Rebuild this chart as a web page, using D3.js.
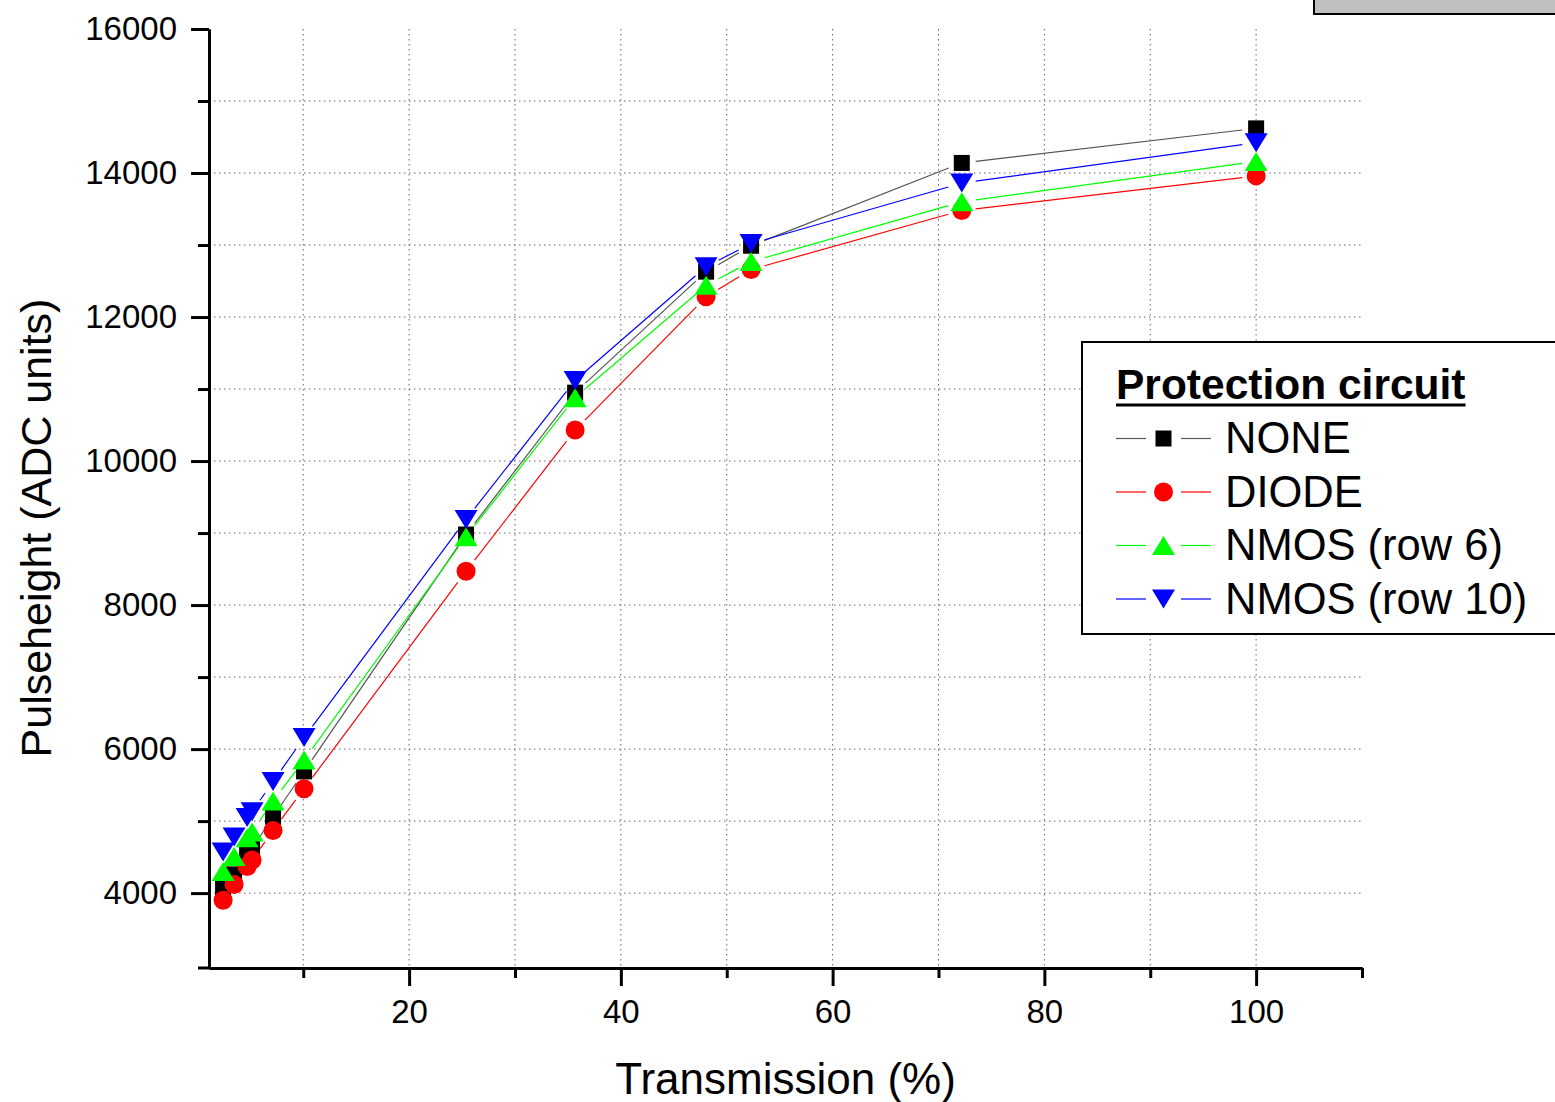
<!DOCTYPE html>
<html>
<head>
<meta charset="utf-8">
<script src="https://cdn.jsdelivr.net/npm/d3@7"></script>
<style>
  body { margin: 0; background: #fff; }
  svg { display: block; font-family: "Liberation Sans", Arial, sans-serif; }
  .axis path, .axis line { stroke: #000; stroke-width: 3; }
  .axis text { font-size: 33px; fill: #000; font-family: "Liberation Sans", Arial, sans-serif; }
  .grid line { stroke: #666; stroke-width: 1; stroke-dasharray: 1.5,3.5; }
</style>
</head>
<body>
<svg width="1555" height="1102"></svg>
<script>
// data
var transmission = [2.43, 3.47, 4.7, 5.17, 7.15, 10.08, 25.38, 35.68, 48.05, 52.3, 72.2, 100];
var noneVals   = [4060, 4260, 4560, 4620, 5060, 5690, 8980, 10950, 12630, 12990, 14140, 14620];
var diodeVals  = [3900, 4120, 4370, 4460, 4870, 5450, 8470, 10430, 12280, 12660, 13480, 13960];
var nmos6Vals  = [4300, 4510, 4770, 4850, 5280, 5850, 8950, 10880, 12440, 12770, 13600, 14160];
var nmos10Vals = [4570, 4780, 5050, 5130, 5550, 6160, 9190, 11120, 12700, 13020, 13860, 14420];

var seriesNames = ['NONE', 'DIODE', 'NMOS (row 6)', 'NMOS (row 10)'];
var seriesColors = ['#000000', '#ff0000', '#00ff00', '#0000ff'];
var seriesLines = ['#555555', '#ff0000', '#00ff00', '#0000ff'];
var seriesShapes = ['square', 'circle', 'up', 'down'];
var seriesVals = [noneVals, diodeVals, nmos6Vals, nmos10Vals];

var xMajor = [20, 40, 60, 80, 100];
var xMinor = [10, 30, 50, 70, 90, 110];
var yMajor = [4000, 6000, 8000, 10000, 12000, 14000, 16000];
var yMinor = [5000, 7000, 9000, 11000, 13000, 15000];

var svg = d3.select('svg');

var plot = {l: 209, r: 1362, t: 29, b: 968};

var x = d3.scaleLinear().domain([1.1, 110]).range([plot.l, plot.r]);
var y = d3.scaleLinear().domain([2960, 16000]).range([plot.b, plot.t]);

// grey box cut at the top right
svg.append('rect')
    .attr('x', 1314).attr('y', -3)
    .attr('width', 260).attr('height', 17)
    .attr('fill', '#c0c0c0')
    .attr('stroke', '#000').attr('stroke-width', 2);

// dotted grid
var grid = svg.append('g').attr('class', 'grid');
grid.selectAll('.vg')
    .data(xMajor.concat(xMinor).filter(function(d) { return d < 110; }))
    .enter().append('line')
    .attr('x1', function(d) { return x(d); })
    .attr('x2', function(d) { return x(d); })
    .attr('y1', plot.t)
    .attr('y2', plot.b);
grid.selectAll('.hg')
    .data(yMajor.concat(yMinor).filter(function(d) { return d < 16000; }))
    .enter().append('line')
    .attr('x1', plot.l)
    .attr('x2', plot.r)
    .attr('y1', function(d) { return y(d); })
    .attr('y2', function(d) { return y(d); });

// axes
svg.append('g').attr('class', 'axis')
    .attr('transform', 'translate(0,' + plot.b + ')')
    .call(d3.axisBottom(x).tickValues(xMinor).tickSize(10).tickSizeOuter(0).tickFormat(''));
svg.append('g').attr('class', 'axis')
    .attr('transform', 'translate(0,' + plot.b + ')')
    .call(d3.axisBottom(x).tickValues(xMajor).tickSize(18).tickSizeOuter(0).tickPadding(14).tickFormat(d3.format('d')));
svg.append('g').attr('class', 'axis')
    .attr('transform', 'translate(' + plot.l + ',0)')
    .call(d3.axisLeft(y).tickValues(yMinor).tickSize(11).tickSizeOuter(0).tickFormat(''));
svg.append('g').attr('class', 'axis')
    .attr('transform', 'translate(' + plot.l + ',0)')
    .call(d3.axisLeft(y).tickValues(yMajor).tickSize(18).tickSizeOuter(0).tickPadding(14).tickFormat(d3.format('d')));
svg.append('line')
    .attr('x1', 198).attr('x2', plot.l)
    .attr('y1', plot.b).attr('y2', plot.b)
    .attr('stroke', '#000').attr('stroke-width', 3);

// axis titles
svg.append('text')
    .attr('x', (plot.l + plot.r) / 2)
    .attr('y', 1094)
    .attr('text-anchor', 'middle')
    .attr('font-size', 44)
    .text('Transmission (%)');
svg.append('text')
    .attr('transform', 'translate(51,528) rotate(-90)')
    .attr('text-anchor', 'middle')
    .attr('font-size', 43)
    .text('Pulseheight (ADC units)');

function markerPath(shape) {
    var w = 23, h = 19;
    if (shape == 'up') return 'M0,' + (-h/2) + 'L' + (w/2) + ',' + (h/2) + 'L' + (-w/2) + ',' + (h/2) + 'Z';
    if (shape == 'down') return 'M0,' + (h/2) + 'L' + (w/2) + ',' + (-h/2) + 'L' + (-w/2) + ',' + (-h/2) + 'Z';
    return null;
}

function drawMarker(g, shape, color, cx, cy) {
    if (shape == 'square') {
        g.append('rect')
            .attr('x', cx - 8).attr('y', cy - 8)
            .attr('width', 16).attr('height', 16)
            .attr('fill', color);
    } else if (shape == 'circle') {
        g.append('circle')
            .attr('cx', cx).attr('cy', cy).attr('r', 9.5)
            .attr('fill', color);
    } else {
        g.append('path')
            .attr('d', markerPath(shape))
            .attr('transform', 'translate(' + cx + ',' + cy + ')')
            .attr('fill', color);
    }
}

// lines with gaps around the symbols, then the symbols
var gap = 14;
seriesVals.forEach(function(vals, s) {
    var g = svg.append('g');
    for (var i = 0; i < vals.length - 1; i++) {
        var x0 = x(transmission[i]), y0 = y(vals[i]);
        var x1 = x(transmission[i + 1]), y1 = y(vals[i + 1]);
        var d = Math.sqrt((x1 - x0) * (x1 - x0) + (y1 - y0) * (y1 - y0));
        if (d <= 2 * gap) continue;
        var ux = (x1 - x0) / d, uy = (y1 - y0) / d;
        g.append('line')
            .attr('x1', x0 + ux * gap).attr('y1', y0 + uy * gap)
            .attr('x2', x1 - ux * gap).attr('y2', y1 - uy * gap)
            .attr('stroke', seriesLines[s])
            .attr('stroke-width', 1.2);
    }
    vals.forEach(function(v, i) {
        drawMarker(g, seriesShapes[s], seriesColors[s], x(transmission[i]), y(v));
    });
});

// legend
var legend = svg.append('g');
legend.append('rect')
    .attr('x', 1082).attr('y', 342)
    .attr('width', 500).attr('height', 292)
    .attr('fill', '#fff')
    .attr('stroke', '#000').attr('stroke-width', 2);
var title = legend.append('text')
    .attr('x', 1116).attr('y', 399)
    .attr('font-size', 42.5)
    .attr('font-weight', 'bold')
    .text('Protection circuit');
var tw = title.node().getComputedTextLength();
legend.append('line')
    .attr('x1', 1116).attr('x2', 1116 + tw)
    .attr('y1', 405).attr('y2', 405)
    .attr('stroke', '#000').attr('stroke-width', 3);

seriesNames.forEach(function(name, s) {
    var ry = 438.5 + s * 53.5;
    legend.append('line')
        .attr('x1', 1116).attr('x2', 1146)
        .attr('y1', ry).attr('y2', ry)
        .attr('stroke', seriesLines[s]).attr('stroke-width', 1.2);
    legend.append('line')
        .attr('x1', 1181).attr('x2', 1211)
        .attr('y1', ry).attr('y2', ry)
        .attr('stroke', seriesLines[s]).attr('stroke-width', 1.2);
    drawMarker(legend, seriesShapes[s], seriesColors[s], 1163.5, ry);
    legend.append('text')
        .attr('x', 1225).attr('y', ry + 14.5)
        .attr('font-size', 43.5)
        .text(name);
});
</script>
</body>
</html>
